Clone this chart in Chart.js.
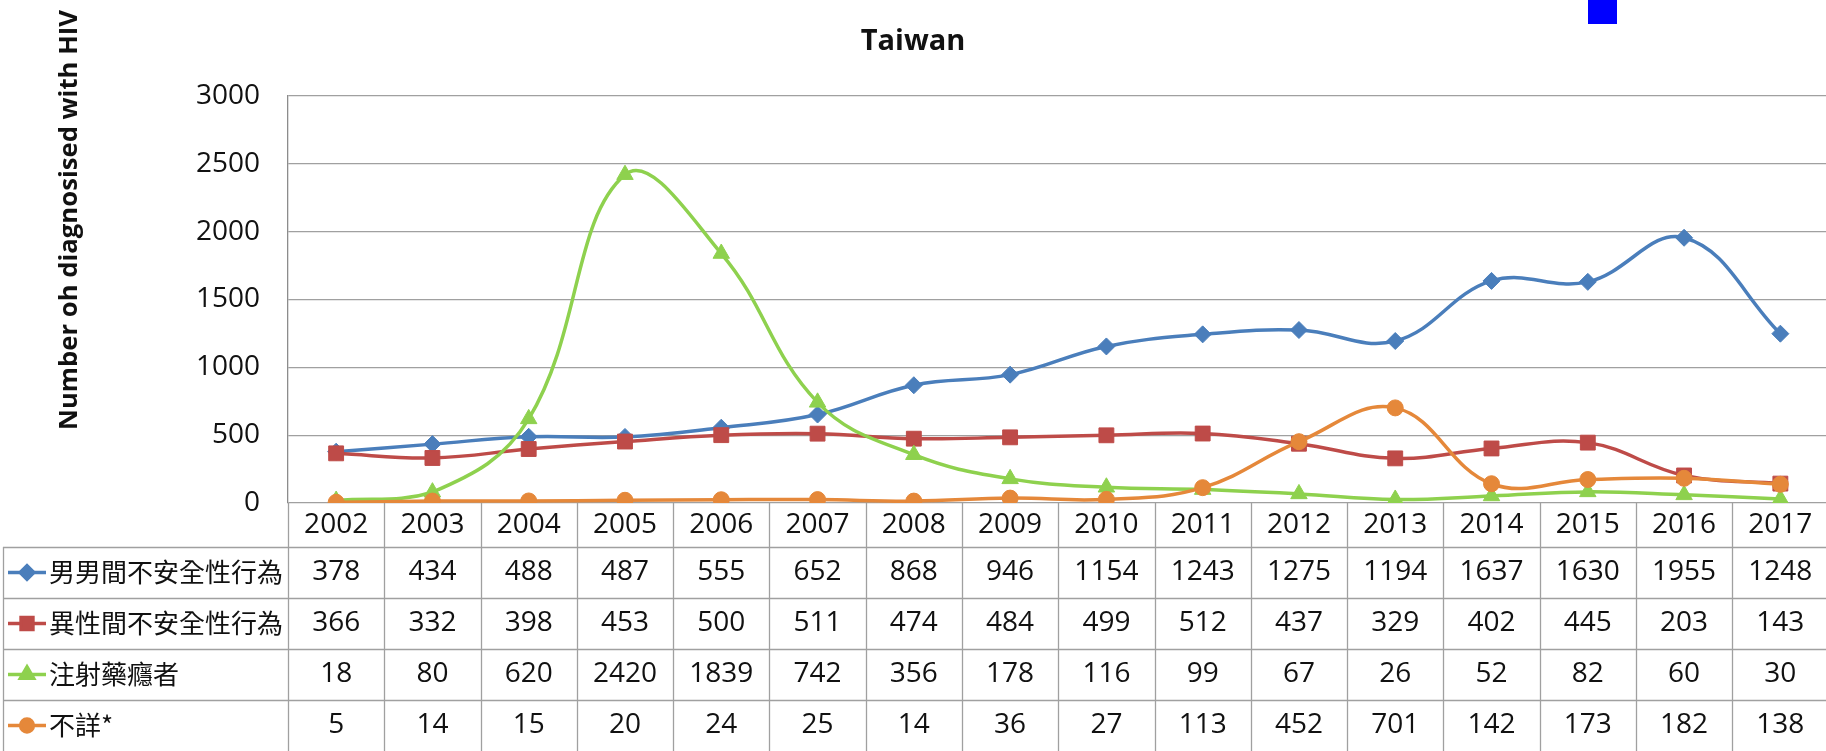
<!DOCTYPE html>
<html>
<head>
<meta charset="utf-8">
<title>Taiwan HIV</title>
<script src="https://cdn.jsdelivr.net/npm/chart.js@4.4.1/dist/chart.umd.min.js"></script>
<style>
  html, body { margin: 0; padding: 0; background: #fff; overflow: hidden; }
  #wrap { position: relative; width: 1826px; height: 751px; overflow: hidden; }
  #hivChart { position: absolute; left: 0; top: 0; }
  #stray { position: absolute; left: 1588px; top: 0; width: 29px; height: 24px; background: #0000ff; }
</style>
</head>
<body>
<div id="wrap">
  <canvas id="hivChart" width="1840" height="751"></canvas>
  <div id="stray"></div>
</div>
<script>
// ==================== DATA ====================
const years = ['2002', '2003', '2004', '2005', '2006', '2007', '2008', '2009',
               '2010', '2011', '2012', '2013', '2014', '2015', '2016', '2017'];
const msmCases      = [378, 434, 488, 487, 555, 652, 868, 946, 1154, 1243, 1275, 1194, 1637, 1630, 1955, 1248];
const heteroCases   = [366, 332, 398, 453, 500, 511, 474, 484, 499, 512, 437, 329, 402, 445, 203, 143];
const drugCases     = [18, 80, 620, 2420, 1839, 742, 356, 178, 116, 99, 67, 26, 52, 82, 60, 30];
const unknownCases  = [5, 14, 15, 20, 24, 25, 14, 36, 27, 113, 452, 701, 142, 173, 182, 138];
const seriesNames   = ['男男間不安全性行為', '異性間不安全性行為', '注射藥癮者', '不詳*'];
const yMax = 3000;
const yStep = 500;
const chartTitle = 'Taiwan';
const yAxisTitle = 'Number oh diagnosised with HIV';

// ==================== STYLE ====================
const COLORS = ['#4A7EBB', '#BE4B48', '#8ED14E', '#E5883A'];
const POINT_STYLES = ['rectRot', 'rect', 'triangle', 'circle'];
const POINT_RADII = [8.5, 10.5, 9.5, 8];
const TEXT_COLOR = '#111';
const LINE_GRAY = '#A0A0A0';
const NUM_FONT = "'Open Sans', 'Noto Sans CJK TC', sans-serif";

Chart.defaults.font.family = NUM_FONT;
Chart.defaults.color = TEXT_COLOR;

const allSeries = [msmCases, heteroCases, drugCases, unknownCases];

// Draws the title, the rotated axis title and the data table under the plot
const tablePlugin = {
  id: 'dataTable',
  afterDraw(chart) {
    const { ctx, chartArea, scales } = chart;
    const x = scales.x;
    const colW = (chartArea.right - chartArea.left) / years.length;
    const headBottom = chartArea.bottom + 44;
    const rowH = 51;
    const tableLeft = 3;
    const tableBottom = chart.height;

    ctx.save();

    // chart title
    ctx.fillStyle = TEXT_COLOR;
    ctx.font = "bold 29px " + NUM_FONT;
    ctx.textAlign = 'center';
    ctx.textBaseline = 'middle';
    ctx.fillText(chartTitle, 913, 42);

    // y axis title, rotated
    ctx.save();
    ctx.translate(70, 220);
    ctx.rotate(-Math.PI / 2);
    let size = 25;
    ctx.font = "bold " + size + "px " + NUM_FONT;
    const w = ctx.measureText(yAxisTitle).width;
    size = size * 420 / w;
    ctx.font = "bold " + size.toFixed(1) + "px " + NUM_FONT;
    ctx.fillText(yAxisTitle, 0, 0);
    ctx.restore();

    // table grid
    ctx.strokeStyle = LINE_GRAY;
    ctx.lineWidth = 1.3;
    ctx.beginPath();
    for (let r = 0; r < allSeries.length; r++) {
      const yy = Math.round(headBottom + r * rowH) + 0.5;
      ctx.moveTo(tableLeft, yy);
      ctx.lineTo(chart.width, yy);
    }
    ctx.moveTo(tableLeft + 0.5, headBottom);
    ctx.lineTo(tableLeft + 0.5, tableBottom);
    for (let c = 0; c <= years.length; c++) {
      const xx = Math.round(chartArea.left + c * colW) + 0.5;
      ctx.moveTo(xx, chartArea.bottom);
      ctx.lineTo(xx, tableBottom);
    }
    ctx.stroke();

    // rows: legend key, name, values
    allSeries.forEach((vals, r) => {
      const cy = headBottom + r * rowH + rowH / 2;
      ctx.strokeStyle = COLORS[r];
      ctx.lineWidth = 3.5;
      ctx.beginPath();
      ctx.moveTo(8, cy);
      ctx.lineTo(46, cy);
      ctx.stroke();
      ctx.fillStyle = COLORS[r];
      Chart.helpers.drawPoint(ctx, {
        pointStyle: POINT_STYLES[r],
        radius: POINT_RADII[r] * 0.8,
        rotation: 0,
        borderWidth: 1
      }, 27, cy);

      ctx.fillStyle = TEXT_COLOR;
      ctx.font = "26px 'Noto Sans CJK TC', " + NUM_FONT;
      ctx.textAlign = 'left';
      ctx.textBaseline = 'middle';
      ctx.fillText(seriesNames[r], 49, cy);

      ctx.font = "28px " + NUM_FONT;
      ctx.textAlign = 'center';
      vals.forEach((v, i) => {
        ctx.fillText(String(v), x.getPixelForValue(i), cy);
      });
    });

    ctx.restore();
  }
};

const datasets = allSeries.map((vals, i) => ({
  label: seriesNames[i],
  data: vals,
  borderColor: COLORS[i],
  backgroundColor: COLORS[i],
  pointBackgroundColor: COLORS[i],
  pointBorderColor: COLORS[i],
  pointBorderWidth: 1,
  pointStyle: POINT_STYLES[i],
  pointRadius: POINT_RADII[i],
  borderWidth: 3.5,
  tension: 0.4,
  fill: false,
  order: allSeries.length - i
}));

const ctx = document.getElementById('hivChart').getContext('2d');
new Chart(ctx, {
  type: 'line',
  data: { labels: years, datasets: datasets },
  options: {
    responsive: false,
    animation: false,
    devicePixelRatio: 1,
    layout: { padding: { top: 96, right: 3, bottom: 204, left: 0 } },
    plugins: {
      legend: { display: false },
      title: { display: false },
      tooltip: { enabled: false }
    },
    scales: {
      x: {
        type: 'category',
        offset: true,
        afterFit(scale) { scale.height = 44; },
        grid: { display: false, drawTicks: false },
        border: { display: false },
        ticks: {
          color: TEXT_COLOR,
          padding: 5,
          maxRotation: 0,
          autoSkip: false,
          font: { size: 28, lineHeight: 1.2 }
        }
      },
      y: {
        min: 0,
        max: yMax,
        afterFit(scale) { scale.width = 288; },
        grid: { color: LINE_GRAY, lineWidth: 1.3, drawTicks: false },
        border: { display: true, color: '#8C8C8C', width: 1.3 },
        ticks: {
          stepSize: yStep,
          color: TEXT_COLOR,
          padding: 28,
          font: { size: 28 },
          callback: (value) => String(value)
        }
      }
    }
  },
  plugins: [tablePlugin]
});
</script>
</body>
</html>
